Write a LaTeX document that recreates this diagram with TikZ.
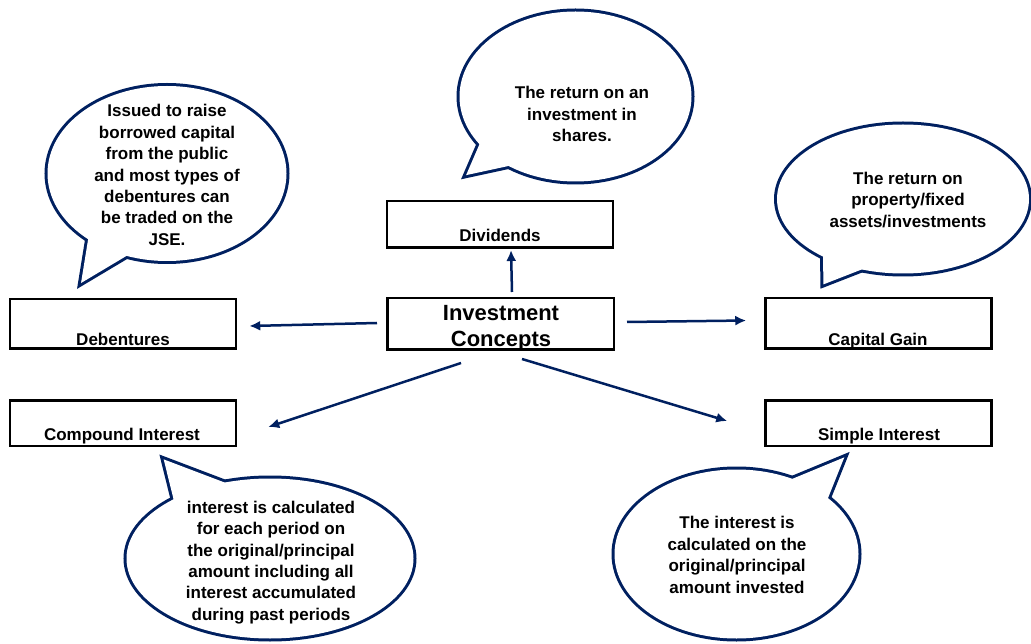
\documentclass[tikz,border=0pt]{standalone}
\usepackage{fontspec}
\setmainfont{Liberation Sans}
\usetikzlibrary{calc,arrows.meta}
\definecolor{navy}{RGB}{0,32,96}
\newcommand\mycallout[6]{%
  \coordinate (cc) at (#1);
  \coordinate (tp) at ($(#4)!5pt!($(#5)!0.5!(#6)$)$);
  \coordinate (ba) at ($(tp)!1.35!(#5)$);
  \coordinate (bb) at ($(tp)!1.35!(#6)$);
  \draw[navy, line width=6pt] (cc) ellipse [x radius=#2, y radius=#3];
  \draw[navy, line width=6pt, line join=miter] (tp) -- (ba) -- (bb) -- cycle;
  \fill[white] (cc) ellipse [x radius=#2, y radius=#3];
  \fill[white] (tp) -- (ba) -- (bb) -- cycle;
}
\begin{document}
\begin{tikzpicture}[x=1pt,y=-1pt,
  box/.style={draw=black, line width=2.5pt, minimum width=226pt, inner sep=0pt},
  lbl/.style={font=\fontsize{17}{21.4}\selectfont\bfseries, inner sep=0pt, anchor=base},
  big/.style={font=\fontsize{22}{26}\selectfont\bfseries, inner sep=0pt, anchor=base},
  ctext/.style={font=\fontsize{17}{21.4}\selectfont\bfseries, align=center, inner sep=0pt},
  arr/.style={draw=navy, line width=2.5pt, -{Latex[length=11pt,width=10pt]}},
]
\useasboundingbox[fill=white] (0,0) rectangle (1031,644);

% callouts
\mycallout{167,173.5}{119.5pt}{87.5pt}{78,287}{88,240}{128,255}
\mycallout{575.5,96.5}{116pt}{85pt}{462,178}{480,143}{513,165}
\mycallout{903,199}{126pt}{74.5pt}{820,288}{823,255}{868,267}
\mycallout{270,558.5}{143.5pt}{80pt}{160,456}{173,497}{218,480}
\mycallout{736.5,554}{122pt}{84.5pt}{848,454}{792,479}{828,498}

\node[ctext] (tdeb) at (167,175) {Issued to raise\\borrowed capital\\from the public\\and most types of\\debentures can\\be traded on the\\JSE.};
\node[ctext] (tdiv) at (582,114) {The return on an\\investment in\\shares.};
\node[ctext] (tcap) at (908,200) {The return on\\property/fixed\\assets/investments};
\node[ctext] (tcomp) at (271,562.5) {interest is calculated\\for each period on\\the original/principal\\amount including all\\interest accumulated\\during past periods};
\node[ctext] (tsimp) at (737,555) {The interest is\\calculated on the\\original/principal\\amount invested};

% boxes
\node[box, minimum height=46.5pt] (div) at (500,224.5) {};
\node[box, minimum width=226.5pt, minimum height=51.5pt] (ic) at (500.5,324) {};
\node[box, minimum height=49.5pt] (deb) at (123,324) {};
\node[box, minimum height=50.5pt] (cap) at (878.5,323.5) {};
\node[box, minimum height=45.5pt] (comp) at (123,423) {};
\node[box, minimum height=45.5pt] (simp) at (878.5,423) {};

\node[lbl] (ldiv) at (500,242) {Dividends};
\node[big] (lic1) at (501,321) {Investment};
\node[big] (lic2) at (501,347) {Concepts};
\node[lbl] (ldeb) at (123,345) {Debentures};
\node[lbl] (lcap) at (878,345) {Capital Gain};
\node[lbl] (lcomp) at (122,440) {Compound Interest};
\node[lbl] (lsimp) at (879,440) {Simple Interest};

% arrows
\draw[arr] ([xshift=11.5pt,yshift=5pt]ic.north) -- ([xshift=11pt,yshift=-1pt]div.south);
\draw[arr] ([xshift=-9pt,yshift=1pt]ic.west) -- ([xshift=12pt,yshift=-2pt]deb.east);
\draw[arr] ([xshift=12pt,yshift=2pt]ic.east) -- ([xshift=-18pt,yshift=3pt]cap.west);
\draw[arr] ([xshift=-39.5pt,yshift=-12pt]ic.south) -- ([xshift=31pt,yshift=-4pt]comp.east);
\draw[arr] ([xshift=21.5pt,yshift=-8pt]ic.south) -- ([xshift=-37pt,yshift=2pt]simp.west);
\end{tikzpicture}
\end{document}
